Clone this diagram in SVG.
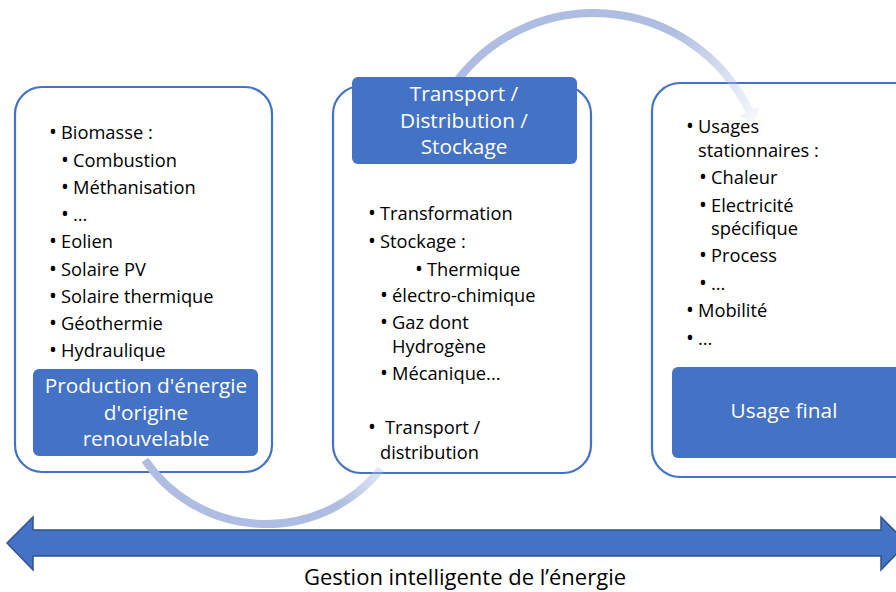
<svg xmlns="http://www.w3.org/2000/svg" width="896" height="592" viewBox="0 0 896 592">
<defs>
<style>
.outer{fill:#fff;stroke:#4472c4;stroke-width:2.2}
.blue{fill:#4472c4}
.t{font-family:"Open Sans","Liberation Sans",sans-serif;font-size:18.3px;fill:#000}
.b{font-size:21px}
.h{font-family:"Open Sans","Liberation Sans",sans-serif;font-size:20.8px;fill:#fff;text-anchor:middle}
.arc{fill:none;stroke-width:8}
</style>
<linearGradient id="fadeTop" gradientUnits="userSpaceOnUse" x1="660" y1="45" x2="758" y2="122">
<stop offset="0" stop-color="#aebde1" stop-opacity="1"/>
<stop offset="1" stop-color="#aebde1" stop-opacity="0.08"/>
</linearGradient>
<linearGradient id="fadeBot" gradientUnits="userSpaceOnUse" x1="335" y1="500" x2="385" y2="466">
<stop offset="0" stop-color="#aebde1" stop-opacity="1"/>
<stop offset="1" stop-color="#aebde1" stop-opacity="0.3"/>
</linearGradient>
</defs>

<g id="box-production">
<rect class="outer" x="15" y="87" width="257" height="385" rx="27"/>
</g>
<g id="box-transport">
<rect class="outer" x="333" y="86" width="258" height="387" rx="28"/>
</g>
<g id="box-usage">
<rect class="outer" x="652" y="83" width="290" height="394" rx="28"/>
</g>

<g id="connectors">
<path class="arc" stroke="url(#fadeBot)" d="M 145 460 A 147 147 0 0 0 381 469"/>
<path class="arc" stroke="url(#fadeTop)" d="M 450.6 90 A 172 172 0 0 1 749.2 111"/>
<polygon fill="url(#fadeTop)" points="759.2,106.2 739.2,115.8 754.8,123.5"/>
</g>

<g id="label-production">
<rect class="blue" x="33" y="369" width="225" height="87" rx="6"/>
<text class="h" x="146" y="393">Production d'énergie</text>
<text class="h" x="146" y="420">d'origine</text>
<text class="h" x="146" y="446">renouvelable</text>
</g>
<g id="list-production" class="t">
<text x="49" y="139"><tspan class="b">•</tspan><tspan x="61">Biomasse :</tspan></text>
<text x="61" y="167"><tspan class="b">•</tspan><tspan x="73">Combustion</tspan></text>
<text x="61" y="194"><tspan class="b">•</tspan><tspan x="73">Méthanisation</tspan></text>
<text x="61" y="221"><tspan class="b">•</tspan><tspan x="73">...</tspan></text>
<text x="49" y="248"><tspan class="b">•</tspan><tspan x="61">Eolien</tspan></text>
<text x="49" y="276"><tspan class="b">•</tspan><tspan x="61">Solaire PV</tspan></text>
<text x="49" y="303"><tspan class="b">•</tspan><tspan x="61">Solaire thermique</tspan></text>
<text x="49" y="330"><tspan class="b">•</tspan><tspan x="61">Géothermie</tspan></text>
<text x="49" y="357"><tspan class="b">•</tspan><tspan x="61">Hydraulique</tspan></text>
</g>

<g id="label-transport">
<rect class="blue" x="352" y="77" width="225" height="87" rx="6"/>
<text class="h" x="464" y="101">Transport /</text>
<text class="h" x="464" y="128">Distribution /</text>
<text class="h" x="464" y="154">Stockage</text>
</g>
<g id="list-transport" class="t">
<text x="368" y="220"><tspan class="b">•</tspan><tspan x="380">Transformation</tspan></text>
<text x="368" y="248"><tspan class="b">•</tspan><tspan x="380">Stockage :</tspan></text>
<text x="415" y="276"><tspan class="b">•</tspan><tspan x="427">Thermique</tspan></text>
<text x="380" y="302"><tspan class="b">•</tspan><tspan x="392">électro-chimique</tspan></text>
<text x="380" y="329"><tspan class="b">•</tspan><tspan x="392">Gaz dont</tspan></text>
<text x="392" y="353">Hydrogène</text>
<text x="380" y="380"><tspan class="b">•</tspan><tspan x="392">Mécanique...</tspan></text>
<text x="368" y="434"><tspan class="b">•</tspan><tspan x="385">Transport /</tspan></text>
<text x="380" y="459">distribution</text>
</g>

<g id="label-usage">
<rect class="blue" x="672" y="367" width="240" height="91" rx="6"/>
<text class="h" x="784" y="418">Usage final</text>
</g>
<g id="list-usage" class="t">
<text x="686" y="133"><tspan class="b">•</tspan><tspan x="698">Usages</tspan></text>
<text x="698" y="157">stationnaires :</text>
<text x="699" y="184"><tspan class="b">•</tspan><tspan x="711">Chaleur</tspan></text>
<text x="699" y="212"><tspan class="b">•</tspan><tspan x="711">Electricité</tspan></text>
<text x="711" y="235">spécifique</text>
<text x="699" y="262"><tspan class="b">•</tspan><tspan x="711">Process</tspan></text>
<text x="699" y="290"><tspan class="b">•</tspan><tspan x="711">...</tspan></text>
<text x="686" y="317"><tspan class="b">•</tspan><tspan x="698">Mobilité</tspan></text>
<text x="686" y="345"><tspan class="b">•</tspan><tspan x="698">...</tspan></text>
</g>

<g id="gestion">
<polygon fill="#4472c4" stroke="#2f528f" stroke-width="1.5" points="7,543 33,517 33,530 881,530 881,517 907,543 881,570 881,556 33,556 33,570"/>
<text x="465" y="585" style="font-family:'Open Sans','Liberation Sans',sans-serif;font-size:22px;fill:#000;text-anchor:middle">Gestion intelligente de l’énergie</text>
</g>
</svg>
